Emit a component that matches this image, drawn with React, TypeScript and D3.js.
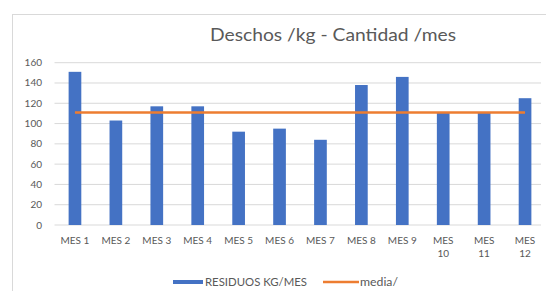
import React from "react";
import * as d3 from "d3";

const categories: string[][] = [
  ["MES 1"], ["MES 2"], ["MES 3"], ["MES 4"], ["MES 5"], ["MES 6"],
  ["MES 7"], ["MES 8"], ["MES 9"], ["MES", "10"], ["MES", "11"], ["MES", "12"],
];
const residuos: number[] = [151, 103, 117, 117, 92, 95, 84, 138, 146, 111, 111, 125];
const media: number[] = [111, 111, 111, 111, 111, 111, 111, 111, 111, 111, 111, 111];
const yTicks: number[] = [0, 20, 40, 60, 80, 100, 120, 140, 160];
const title = "Deschos /kg - Cantidad /mes";
const seriesNames = ["RESIDUOS KG/MES", "media/"];

const W = 546, H = 291;
const left = 54.5, right = 545.5, top = 62.7, bottom = 225;
const BLUE = "#4472C4", ORANGE = "#ED7D31", TXT = "#595959", GRID = "#d9d9d9";
const FONT = "Lato, 'Open Sans', sans-serif";

export default function App() {
  const keys = categories.map((_, i) => String(i));
  const x = d3.scaleBand<string>().domain(keys).range([left, right]).paddingInner(0.69).paddingOuter(0.345);
  const y = d3.scaleLinear().domain([0, 160]).range([bottom, top]);
  const cx = (i: number) => (x(String(i)) as number) + x.bandwidth() / 2;
  const line = d3.line<number>().x((_, i) => cx(i)).y((d) => y(d));

  return (
    <svg width={W} height={H} style={{ position: "absolute", left: 0, top: 0, background: "#fff" }}>
      <rect x={12.5} y={14.5} width={600} height={300} fill="#fff" stroke="#d9d9d9" />
      <text x={210} y={41} fontSize={17} fill={TXT} fontFamily={FONT} textLength={246} lengthAdjust="spacingAndGlyphs">{title}</text>
      {yTicks.map((t) => (
        <g key={t}>
          <line x1={left} x2={541} y1={y(t)} y2={y(t)} stroke={GRID} strokeWidth={1} />
          <text x={42} y={y(t) + 3.5} textAnchor="end" fontSize={10} fill={TXT} fontFamily={FONT}>{t}</text>
        </g>
      ))}
      {residuos.map((v, i) => (
        <rect key={i} x={x(String(i))} y={y(v)} width={x.bandwidth()} height={y(0) - y(v)} fill={BLUE} />
      ))}
      <path d={line(media) || ""} fill="none" stroke={ORANGE} strokeWidth={2.5} />
      {categories.map((lines, i) => (
        <text key={i} x={cx(i)} y={243.5} textAnchor="middle" fontSize={10} fill={TXT} fontFamily={FONT}>
          {lines.map((l, j) => (
            <tspan key={j} x={cx(i)} dy={j === 0 ? 0 : 13}>{l}</tspan>
          ))}
        </text>
      ))}
      <rect x={173} y={280} width={30} height={4} fill={BLUE} />
      <text x={205} y={285.5} fontSize={10.5} fill={TXT} fontFamily={FONT} textLength={102} lengthAdjust="spacingAndGlyphs">{seriesNames[0]}</text>
      <line x1={323} x2={359} y1={282} y2={282} stroke={ORANGE} strokeWidth={2.5} />
      <text x={360} y={285.5} fontSize={10.5} fill={TXT} fontFamily={FONT} textLength={38} lengthAdjust="spacingAndGlyphs">{seriesNames[1]}</text>
    </svg>
  );
}
